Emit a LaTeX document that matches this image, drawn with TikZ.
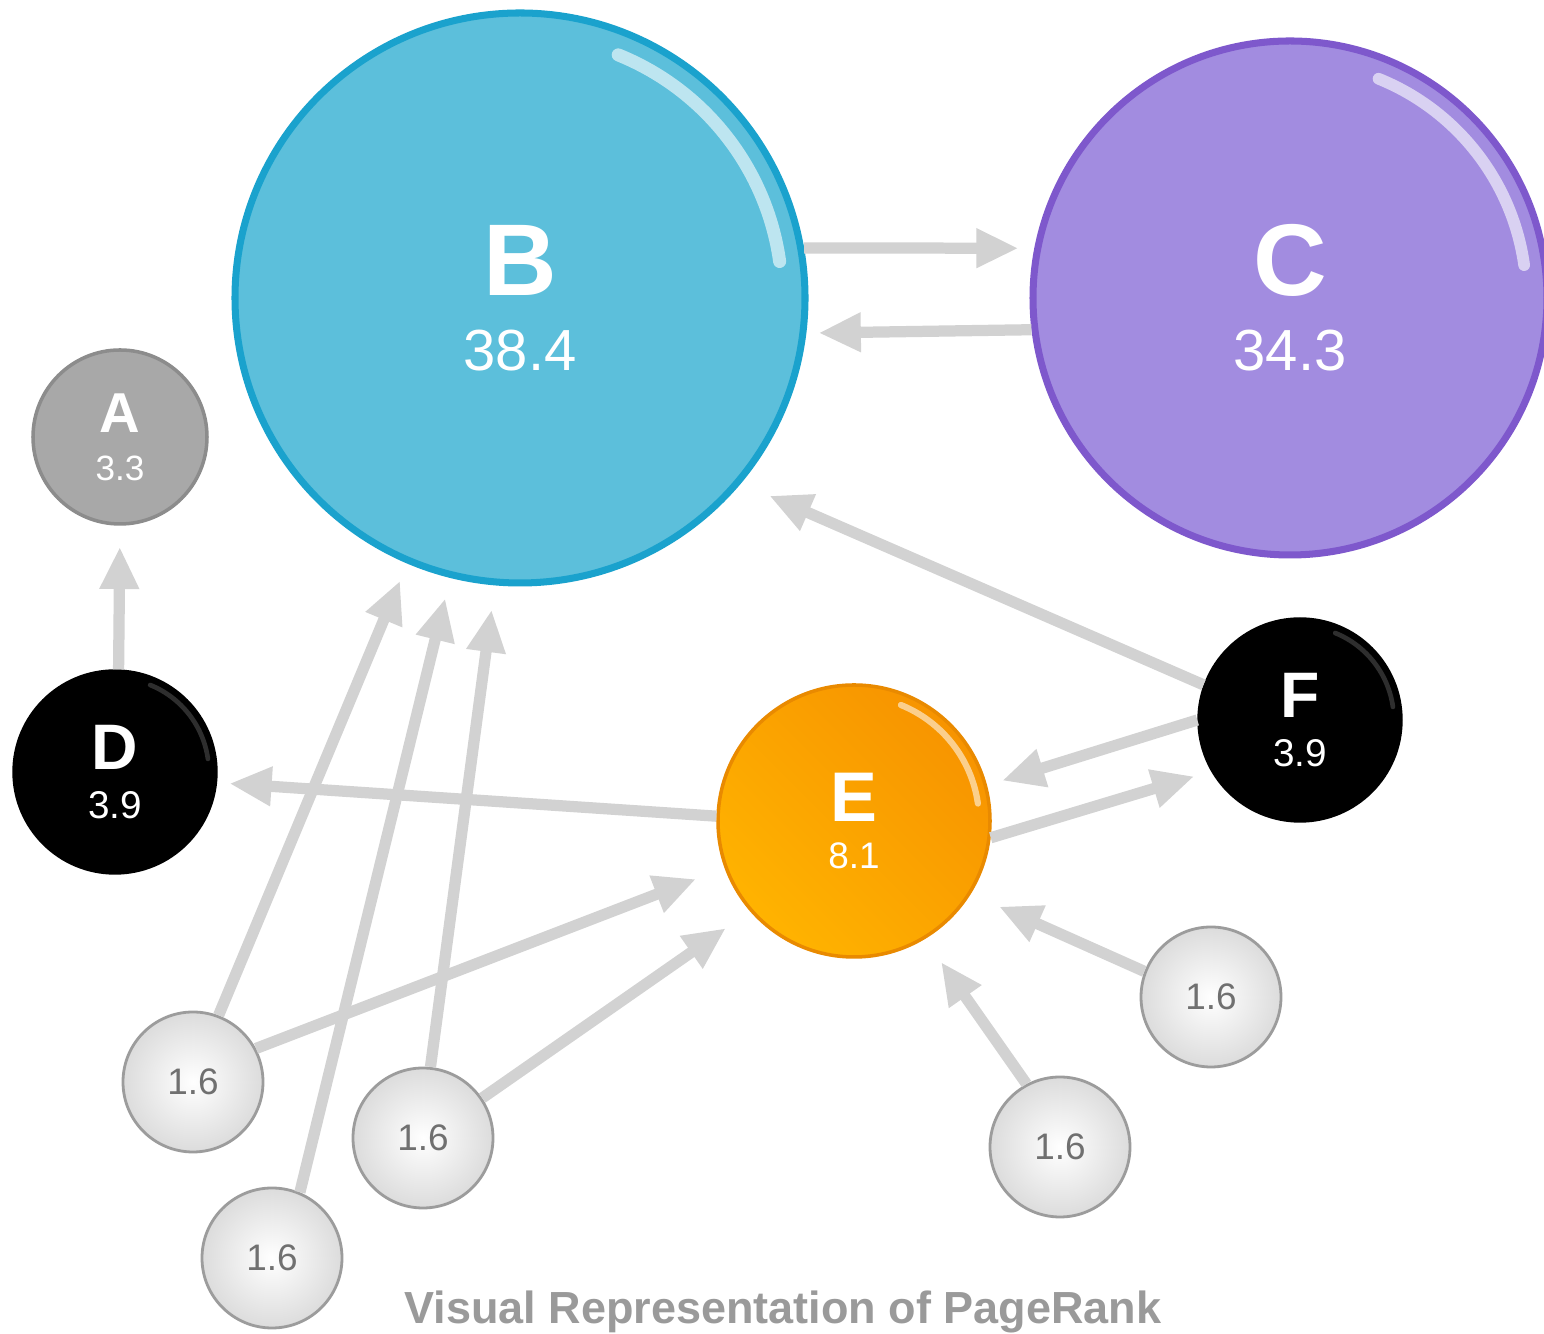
\documentclass[tikz,border=0pt]{standalone}
\usepackage{fontspec}
\setmainfont{Liberation Sans}
\usetikzlibrary{arrows.meta,calc}

\definecolor{bluefill}{HTML}{5CBFDB}
\definecolor{blueedge}{HTML}{1AA2CD}
\definecolor{violetfill}{HTML}{A28CE0}
\definecolor{violetedge}{HTML}{7E58CC}
\definecolor{orangefill}{HTML}{F79400}
\definecolor{orangelow}{HTML}{FFB300}
\definecolor{orangeedge}{HTML}{E98A00}
\definecolor{greyfill}{HTML}{A8A8A8}
\definecolor{greyedge}{HTML}{8C8C8C}
\definecolor{leaffill}{HTML}{DCDCDC}
\definecolor{leafedge}{HTML}{9C9C9C}
\definecolor{leaftext}{HTML}{707070}
\definecolor{edgegray}{HTML}{D2D2D2}
\definecolor{captiongray}{HTML}{9A9A9A}

\begin{document}
\begin{tikzpicture}
\fill[white] (0,0) rectangle (15.44,13.34);
\useasboundingbox (0,0) rectangle (15.44,13.34);

\tikzset{vertex/.style = {shape=circle, draw, inner sep=0pt, align=center, text=white}}
\tikzset{bluev/.style = {vertex, minimum size=5.7cm, fill=bluefill, draw=blueedge, line width=2pt, font=\bfseries\fontsize{29}{21.3}\selectfont}}
\tikzset{violetv/.style = {vertex, minimum size=5.14cm, fill=violetfill, draw=violetedge, line width=2pt, font=\bfseries\fontsize{29}{21.3}\selectfont}}
\tikzset{orangev/.style = {vertex, minimum size=2.72cm, top color=orangefill, middle color=orangefill, bottom color=orangelow, shading angle=-45, draw=orangeedge, line width=1pt, font=\bfseries\fontsize{20}{13.4}\selectfont}}
\tikzset{blackv/.style = {vertex, minimum size=2.04cm, fill=black, font=\bfseries\fontsize{18.3}{13.8}\selectfont}}
\tikzset{greyv/.style = {vertex, minimum size=1.74cm, fill=greyfill, draw=greyedge, line width=1pt, font=\bfseries\fontsize{16}{13.6}\selectfont}}
\tikzset{leaf/.style = {shape=circle, draw=leafedge, line width=0.8pt, inner color=white, outer color=leaffill, minimum size=1.4cm, text=leaftext, font=\fontsize{10.5}{12}\selectfont}}
\tikzset{edge/.style = {draw=edgegray, line width=3.2pt, -{Triangle[length=12pt,width=10.5pt]}}}
\tikzset{gloss/.style = {draw=white, line cap=round}}
\tikzset{caption/.style = {anchor=base, text=captiongray, font=\bfseries\fontsize{12.8}{15}\selectfont}}

\foreach \pos/\name/\look/\val/\vs in {{(5.20,10.36)/B/bluev/38.4/16.5}, {(12.90,10.36)/C/violetv/34.3/16.5}, {(1.20,8.97)/A/greyv/3.3/10}, {(1.15,5.62)/D/blackv/3.9/11}, {(13.00,6.14)/F/blackv/3.9/11}, {(8.54,5.13)/E/orangev/8.1/10.5}}
\node[\look] (\name) at \pos {\name\\{\mdseries\fontsize{\vs}{\vs}\selectfont\val}};

\foreach \pos/\name in {{(1.93,2.52)/s1}, {(2.72,0.76)/s2}, {(4.23,1.96)/s3}, {(12.11,3.37)/s4}, {(10.60,1.87)/s5}}
\node[leaf] (\name) at \pos {1.6};

% shine on the balls
\foreach \n/\r/\o in {B/2.85/0.6, C/2.57/0.6, E/1.36/0.55, D/1.02/0.18, F/1.02/0.18}
\draw[gloss, opacity=\o, line width={1.3*\r pt}] ($(\n.center)+(68:{0.92*\r})$) arc[start angle=68, end angle=8, radius={0.92*\r}];

\foreach \from/\to/\gap in {B.10/C.169/4.5pt, C.187/B.353/3.5pt, D.88/A.270/6pt, E.178/D.-6/3.5pt, F.160/B.-40/8.8pt, F.180/E.15/4.5pt, E.-7/F.210/5pt, s1.69/B.-113/5.3pt, s2.67/B.-104/6pt, s3.84/B.-95/7pt, s1.28/E.200/8.7pt, s3.34/E.221/8.4pt, s4.159/E.-32/8.8pt, s5.118/E.-59/8pt}
\draw[edge, shorten >=\gap] (\from) to (\to);

\node[caption] (title) at (7.83,0.10) {Visual Representation of PageRank};
\end{tikzpicture}
\end{document}
